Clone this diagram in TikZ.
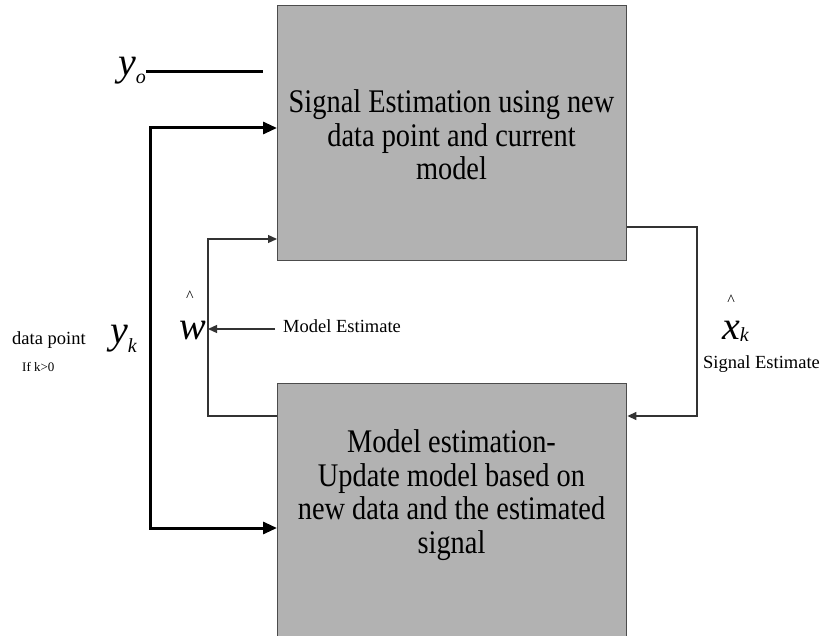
\documentclass[tikz,border=0pt]{standalone}
\usepackage{fontspec}
\setmainfont{Liberation Serif}
\newfontfamily\boxfont[FakeStretch=0.86]{Liberation Serif}
\usetikzlibrary{arrows.meta}
\newcommand{\mybigit}{\fontsize{40}{40}\selectfont\itshape}
\newcommand{\mysubit}{\fontsize{20}{20}\selectfont\itshape}
\begin{document}
\begin{tikzpicture}[x=1pt,y=-1pt,
  boxsty/.style={rectangle, draw=black!70, line width=1.4pt, fill=black!30, minimum width=349pt, inner sep=0pt},
  boxtxt/.style={align=center, inner sep=0pt, font=\boxfont\fontsize{33}{33.5}\selectfont},
  smalltxt/.style={inner sep=0pt, font=\fontsize{18.5}{20}\selectfont},
  tinytxt/.style={inner sep=0pt, font=\fontsize{13}{14}\selectfont},
  mathlbl/.style={inner sep=0pt, anchor=base west},
  hatsty/.style={inner sep=0pt, anchor=base, font=\fontsize{16}{16}\selectfont},
  thickln/.style={line width=3pt, black},
  thinln/.style={line width=1.3pt, black!80},
  bothtip/.style={{Triangle[length=14pt,width=12pt]}-{Triangle[length=14pt,width=12pt]}},
  smalltip/.style={-{Triangle[length=9pt,width=8pt]}}
]
\useasboundingbox (0,0) rectangle (825,636);

% boxes
\node[boxsty, minimum height=255pt, anchor=north west] (sig) at (277,5) {};
\node[boxsty, minimum height=262pt, anchor=north west] (mod) at (277,383) {};
\node[boxtxt, anchor=north] (sigtxt) at (451.5,89.5) {Signal Estimation using new\\data point and current\\model};
\node[boxtxt, anchor=north] (modtxt) at (451.5,429.5) {Model estimation-\\Update model based on\\new data and the estimated\\signal};

% labels
\node[mathlbl] (yo) at (118,76) {\mybigit y\raisebox{-8pt}{\mysubit o}};
\node[mathlbl] (yk) at (110,344) {\mybigit y\raisebox{-9pt}{\mysubit k}};
\node[mathlbl] (w) at (179,340) {\mybigit w};
\node[mathlbl] (xk) at (722,340) {\mybigit x\raisebox{-2pt}{\mysubit k}};
\node[hatsty] (what) at (190,302) {\textasciicircum};
\node[hatsty] (xhat) at (731,306) {\textasciicircum};
\node[smalltxt, anchor=base west] (dp) at (12,345) {data point};
\node[tinytxt, anchor=base west] (ifk) at (22,371) {If k>0};
\node[smalltxt, anchor=base west] (se) at (703,369) {Signal Estimate};
\node[smalltxt, anchor=base west, inner xsep=8pt] (me) at (275,333) {Model Estimate};

% coordinates
\coordinate (yoend) at (263,72);
\coordinate (fbtop) at (150,128);
\coordinate (fbbot) at (150,528);
\coordinate (lltop) at (208,239);
\coordinate (llbot) at (208,416);
\coordinate (wpt) at (208,329);
\coordinate (rrtop) at (697,227);
\coordinate (rrbot) at (697,416);

% connectors
\draw[thickln] (yo.east |- yoend) -- (yoend);
\draw[thickln, bothtip] (mod.west |- fbbot) -- (fbbot) -- (fbtop) -- (sig.west |- fbtop);
\draw[thinln, smalltip] (mod.west |- llbot) -- (llbot) -- (lltop) -- (sig.west |- lltop);
\draw[thinln, smalltip] (me.west |- wpt) -- (wpt);
\draw[thinln, smalltip] (sig.east |- rrtop) -- (rrtop) -- (rrbot) -- (mod.east |- rrbot);
\end{tikzpicture}
\end{document}
